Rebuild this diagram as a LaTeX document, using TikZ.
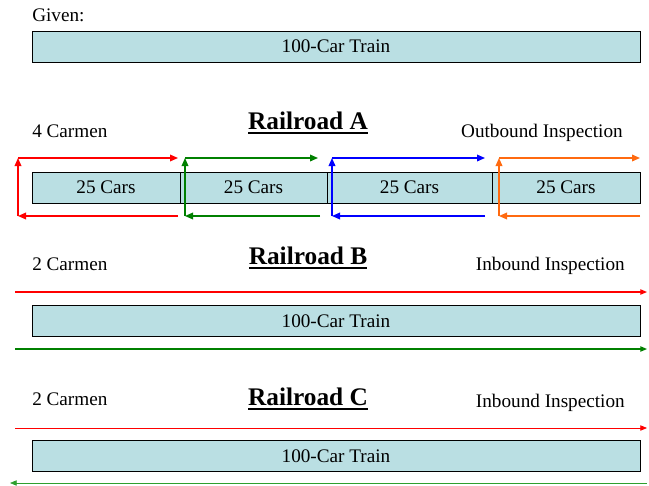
\documentclass[tikz,border=0pt]{standalone}
\usepackage{fontspec}
\setmainfont{Liberation Serif}
\usetikzlibrary{arrows.meta}
\definecolor{cCar}{HTML}{BADFE3}
\definecolor{cRed}{HTML}{FF0000}
\definecolor{cGreen}{HTML}{008000}
\definecolor{cGreenL}{HTML}{2EA02E}
\definecolor{cBlue}{HTML}{0000FF}
\definecolor{cOrange}{HTML}{FF6A10}
\newcommand{\thickul}[1]{\setbox0\hbox{#1}\rlap{\raisebox{-3.6pt}{\rule{\wd0}{1.5pt}}}\box0}

\begin{document}
\begin{tikzpicture}[x=0.75pt, y=-0.75pt,
  every node/.style={font=\fontsize{14.4}{16}\selectfont, inner sep=0pt},
  car/.style={draw=black, fill=cCar, minimum height=23.25pt, line width=0.6pt},
  title/.style={font=\fontsize{19}{21}\selectfont\bfseries, anchor=base},
  lbl/.style={anchor=base west},
  rlbl/.style={anchor=base east},
  ar/.style={-{Triangle[length=6pt, width=5pt]}, line width=1pt},
  arb/.style={-{Triangle[length=5pt, width=4pt]}, line width=0.9pt}
]
\useasboundingbox (0,0) rectangle (649,485);

% given
\node[lbl] (given) at (32,22) {Given:};
\node[car, minimum width=456pt] (train) at (336,46.5) {100-Car Train};

% railroad A
\node[title] (rra) at (308,129) {\thickul{Railroad A}};
\node[lbl] (crewa) at (32,137) {4 Carmen};
\node[rlbl] (inspa) at (623,137) {Outbound Inspection};
\node[car, minimum width=111pt] (cars1) at (106,187.5) {25 Cars};
\node[car, minimum width=110.25pt] (cars2) at (253.5,187.5) {25 Cars};
\node[car, minimum width=123.75pt] (cars3) at (409.5,187.5) {25 Cars};
\node[car, minimum width=111pt] (cars4) at (566,187.5) {25 Cars};

\coordinate (r tl) at (18,158);   \coordinate (r tr) at (178,158);
\coordinate (r bl) at (18,216);   \coordinate (r br) at (178,216);
\coordinate (g tl) at (185,158);  \coordinate (g tr) at (318,158);
\coordinate (g bl) at (185,216);  \coordinate (g br) at (320,216);
\coordinate (b tl) at (332,158);  \coordinate (b tr) at (485,158);
\coordinate (b bl) at (332,216);  \coordinate (b br) at (485,216);
\coordinate (o tl) at (499,158);  \coordinate (o tr) at (640,158);
\coordinate (o bl) at (499,216);  \coordinate (o br) at (640,216);

\draw[ar, cRed] (r bl) -- (r tl);
\draw[ar, cRed] (r tl) -- (r tr);
\draw[ar, cRed] (r br) -- (r bl);
\draw[ar, cGreen] (g bl) -- (g tl);
\draw[ar, cGreen] (g tl) -- (g tr);
\draw[ar, cGreen] (g br) -- (g bl);
\draw[ar, cBlue] (b bl) -- (b tl);
\draw[ar, cBlue] (b tl) -- (b tr);
\draw[ar, cBlue] (b br) -- (b bl);
\draw[ar, cOrange] (o bl) -- (o tl);
\draw[ar, cOrange] (o tl) -- (o tr);
\draw[ar, cOrange] (o br) -- (o bl);

% railroad B
\node[title] (rrb) at (308,264) {\thickul{Railroad B}};
\node[lbl] (crewb) at (32,270) {2 Carmen};
\node[rlbl] (inspb) at (625,270) {Inbound Inspection};
\node[car, minimum width=456pt] (trainb) at (336,321) {100-Car Train};
\coordinate (b red w) at (15,292);  \coordinate (b red e) at (647,292);
\coordinate (b grn w) at (15,349);  \coordinate (b grn e) at (647,349);
\draw[arb, cRed] (b red w) -- (b red e);
\draw[arb, cGreen] (b grn w) -- (b grn e);

% railroad C
\node[title] (rrc) at (308,405) {\thickul{Railroad C}};
\node[lbl] (crewc) at (32,405) {2 Carmen};
\node[rlbl] (inspc) at (625,407) {Inbound Inspection};
\node[car, minimum width=456pt] (trainc) at (336,456) {100-Car Train};
\coordinate (c red w) at (15,428);  \coordinate (c red e) at (647,428);
\coordinate (c grn w) at (10,483);  \coordinate (c grn e) at (647,483);
\draw[arb, cRed, line width=0.6pt] (c red w) -- (c red e);
\draw[arb, cGreenL, line width=0.6pt] (c grn e) -- (c grn w);
\end{tikzpicture}
\end{document}
